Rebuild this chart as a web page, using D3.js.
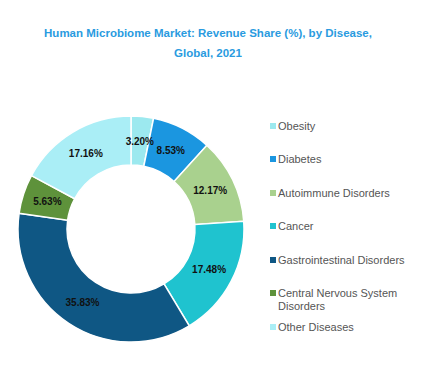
<!DOCTYPE html>
<html>
<head>
<meta charset="utf-8">
<script src="https://cdn.jsdelivr.net/npm/d3@7"></script>
<style>
  body { margin: 0; background: #fff; }
  svg { font-family: "Liberation Sans", Arial, sans-serif; }
</style>
</head>
<body>
<div id="chart"></div>
<script>
// data
var categories = ["Obesity", "Diabetes", "Autoimmune Disorders", "Cancer",
  "Gastrointestinal Disorders", "Central Nervous System Disorders", "Other Diseases"];
var shares = [3.20, 8.53, 12.17, 17.48, 35.83, 5.63, 17.16];
var colours = ["#9ce9ef", "#1b96e0", "#a9d18e", "#1fc3cf", "#0f5784", "#5e923b", "#aaeef6"];
var titleLines = ["Human Microbiome Market: Revenue Share (%), by Disease,", "Global, 2021"];

var width = 442, height = 375;
var cx = 131, cy = 229, outerR = 113, innerR = 64;

var svg = d3.select("#chart").append("svg")
  .attr("width", width)
  .attr("height", height);

// title
svg.append("g").selectAll("text")
  .data(titleLines)
  .enter().append("text")
    .attr("x", 208)
    .attr("y", function(d, i) { return 37 + i * 20; })
    .attr("text-anchor", "middle")
    .attr("fill", "#2a9be0")
    .style("font-size", "11.5px")
    .style("font-weight", "bold")
    .text(function(d) { return d; });

var pie = d3.pie().sort(null).value(function(d) { return d.v; });
var arcs = pie(shares.map(function(v, i) { return {v: v, i: i}; }));

var arc = d3.arc().innerRadius(innerR).outerRadius(outerR);
var labelArc = d3.arc().innerRadius(88).outerRadius(88);

var g = svg.append("g")
  .attr("transform", "translate(" + cx + "," + cy + ")");

g.selectAll(".slice")
  .data(arcs)
  .enter().append("path")
    .attr("class", "slice")
    .attr("d", arc)
    .attr("fill", function(d) { return colours[d.data.i]; })
    .attr("stroke", "#fff")
    .attr("stroke-width", 1.5);

// value labels
g.selectAll(".label")
  .data(arcs)
  .enter().append("text")
    .attr("class", "label")
    .attr("transform", function(d) { return "translate(" + labelArc.centroid(d) + ")"; })
    .attr("dy", "0.35em")
    .attr("text-anchor", "middle")
    .attr("fill", "#111")
    .style("font-size", "10px")
    .style("font-weight", "bold")
    .text(function(d) { return d.data.v.toFixed(2) + "%"; });

// legend
var legendY = [126, 159, 193, 226, 260, 293, 327];
var legend = svg.append("g").selectAll(".legend")
  .data(categories)
  .enter().append("g")
    .attr("class", "legend")
    .attr("transform", function(d, i) { return "translate(270," + legendY[i] + ")"; });

legend.append("rect")
  .attr("x", 0)
  .attr("y", -3)
  .attr("width", 6)
  .attr("height", 6)
  .attr("fill", function(d, i) { return colours[i]; });

legend.append("text")
  .attr("x", 8)
  .attr("dy", "0.35em")
  .attr("fill", "#555")
  .style("font-size", "11px")
  .each(function(d) {
    var t = d3.select(this);
    if (d === "Central Nervous System Disorders") {
      t.append("tspan").attr("x", 8).text("Central Nervous System");
      t.append("tspan").attr("x", 8).attr("dy", "13").text("Disorders");
    } else {
      t.text(d);
    }
  });
</script>
</body>
</html>
